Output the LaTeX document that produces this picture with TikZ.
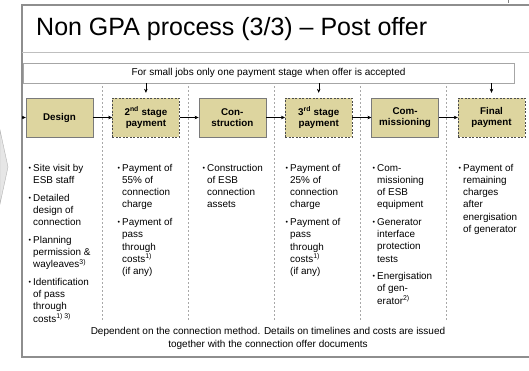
\documentclass[tikz,border=0pt]{standalone}
\usepackage{fontspec}
\setmainfont{Liberation Sans}
\usetikzlibrary{positioning,arrows.meta}

\definecolor{boxfill}{HTML}{DDD59F}
\definecolor{boxline}{HTML}{7A7A7A}
\definecolor{frameline}{HTML}{8E8E8E}
\definecolor{sepline}{HTML}{A8A8A8}
\definecolor{chevfill}{HTML}{E6E6E6}

\newcommand\bl{\llap{\raisebox{1pt}{\fontsize{7}{7}\selectfont\textbullet}\hspace{2.2pt}}}
\newcommand\fn[1]{\textsuperscript{#1}}

\tikzset{
  stage/.style={draw=boxline, fill=boxfill, minimum width=67, minimum height=39,
    inner sep=1pt, align=center, font=\fontsize{9.8}{11.5}\selectfont\bfseries},
  paystage/.style={stage, draw=black!70, dash pattern=on 2pt off 1.5pt},
  flow/.style={-{Stealth[length=4pt,width=3.5pt]}, thin},
  bullets/.style={anchor=north west, inner sep=0pt, align=left,
    font=\fontsize{9.9}{12.2}\selectfont},
  sep/.style={sepline, thin, dash pattern=on 2pt off 2pt},
}

\begin{document}
\begin{tikzpicture}[x=1pt, y=-1pt]
\useasboundingbox (0,0) rectangle (529,370);
% frame and title
\fill[chevfill, draw=black!30] (0,130) -- (8,167) -- (0,204) -- cycle;
\draw[frameline, line width=1.6pt] (529,5) -- (22,5) -- (22,357) -- (529,357);
\draw[black!25] (22,52) -- (529,52);
\draw[black!50] (508,0) -- (508,3);
\node[anchor=base west, inner sep=0pt, font=\fontsize{25}{28}\selectfont] (title) at (36,35)
  {Non GPA process (3/3) -- Post offer};
\node[draw=black!35, fill=white, minimum width=491, minimum height=20, inner sep=0pt,
  font=\fontsize{10}{12}\selectfont] (notice) at (268.5,73)
  {For small jobs only one payment stage when offer is accepted};
%
\foreach \x in {102,188,274,360,446}
  \draw[sep] (\x,86) -- (\x,320);
%
\node[stage] (design) at (59.5,117.5) {Design};
\node[paystage, right=19pt of design] (pay2) {2\textsuperscript{nd} stage\\payment};
\node[stage, right=19pt of pay2] (constr) {Con-\\struction};
\node[paystage, right=19pt of constr] (pay3) {3\textsuperscript{rd} stage\\payment};
\node[stage, right=19pt of pay3] (commis) {Com-\\missioning};
\node[paystage, right=19pt of commis] (finalpay) {Final\\payment};
%
\coordinate (entry) at (22,117.5);
\draw[flow] (entry) -- (design);
\draw[flow] (design) -- (pay2);
\draw[flow] (pay2) -- (constr);
\draw[flow] (constr) -- (pay3);
\draw[flow] (pay3) -- (commis);
\draw[flow] (commis) -- (finalpay);
\foreach \p in {pay2,pay3,finalpay}
  \draw[flow, shorten >=5pt] (notice.south -| \p) -- (\p.north);
%
\node[bullets] (designtxt) at (33,164) {\bl Site visit by\\ESB staff\\[5.5pt]
  \bl Detailed\\design of\\connection\\[5.5pt]
  \bl Planning\\permission \&\\wayleaves\fn{3)}\\[5.5pt]
  \bl Identification\\of pass\\through\\costs\fn{1) 3)}};
\node[bullets] (pay2txt) at (122,164) {\bl Payment of\\55\% of\\connection\\charge\\[5.5pt]
  \bl Payment of\\pass\\through\\costs\fn{1)}\\(if any)};
\node[bullets] (constrtxt) at (207,164) {\bl Construction\\of ESB\\connection\\assets};
\node[bullets] (pay3txt) at (290,164) {\bl Payment of\\25\% of\\connection\\charge\\[5.5pt]
  \bl Payment of\\pass\\through\\costs\fn{1)}\\(if any)};
\node[bullets] (commistxt) at (377,164) {\bl Com-\\missioning\\of ESB\\equipment\\[5.5pt]
  \bl Generator\\interface\\protection\\tests\\[5.5pt]
  \bl Energisation\\of gen-\\erator\fn{2)}};
\node[bullets] (finaltxt) at (463,164) {\bl Payment of\\remaining\\charges\\after\\energisation\\of generator};
%
\node[align=center, inner sep=0pt, font=\fontsize{10}{13}\selectfont] (footer) at (268,338.5)
  {Dependent on the connection method. Details on timelines and costs are issued\\
   together with the connection offer documents};
\end{tikzpicture}
\end{document}
